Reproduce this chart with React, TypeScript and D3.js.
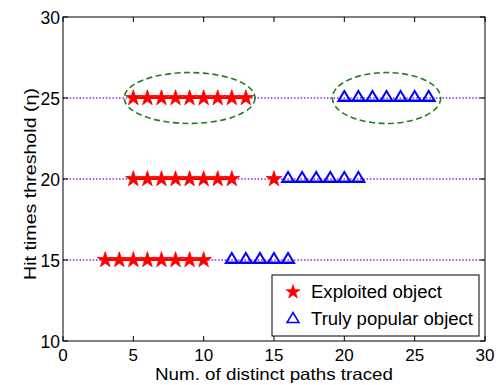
import React from "react";
import * as d3 from "d3";

const thresholds = [15, 20, 25];
const exploitedX: number[][] = [
  [3, 4, 5, 6, 7, 8, 9, 10],
  [5, 6, 7, 8, 9, 10, 11, 12, 15],
  [5, 6, 7, 8, 9, 10, 11, 12, 13],
];
const popularX: number[][] = [
  [12, 13, 14, 15, 16],
  [16, 17, 18, 19, 20, 21],
  [20, 21, 22, 23, 24, 25, 26],
];
// ellipses in data units
const ellipseCx = [9, 23];
const ellipseCy = [25, 25];
const ellipseRx = [4.65, 3.85];
const ellipseRy = [1.57, 1.57];
const xTicks = [0, 5, 10, 15, 20, 25, 30];
const yTicks = [10, 15, 20, 25, 30];
const legendLabels = ["Exploited object", "Truly popular object"];

const W = 504, H = 385;
const M = { left: 63, right: 19, top: 17, bottom: 44 };
const FONT = "'Liberation Sans', Arial, sans-serif";

function segments(xs: number[]): number[][] {
  const out: number[][] = [];
  let cur: number[] = [];
  xs.forEach((v, i) => {
    if (i > 0 && v - xs[i - 1] > 1) { out.push(cur); cur = []; }
    cur.push(v);
  });
  out.push(cur);
  return out;
}

export default function App() {
  const x = d3.scaleLinear().domain([0, 30]).range([M.left, W - M.right]);
  const y = d3.scaleLinear().domain([10, 30]).range([H - M.bottom, M.top]);
  const star = d3.symbol().type(d3.symbolStar).size(76)()!;
  const starLeg = d3.symbol().type(d3.symbolStar).size(60)()!;
  const tri = "M0,-6.5L6,3.5L-6,3.5Z";
  const x0 = x.range()[0], x1 = x.range()[1];
  const y0 = y.range()[0], y1 = y.range()[1];
  const tk = 5;

  const legW = 207, legH = 61;
  const legX = x1 - 6 - legW, legY = y0 - 5 - legH;

  return (
    <svg width={W} height={H} style={{ position: "absolute", left: 0, top: 0, background: "#fff" }} fontFamily={FONT}>
      <rect x={0} y={0} width={W} height={H} fill="#fff" />
      {thresholds.map((t) => (
        <line key={"d" + t} x1={x0} x2={x1} y1={y(t)} y2={y(t)} stroke="#8a2be2" strokeWidth={1.5} strokeDasharray="1.5,1.8" />
      ))}
      {ellipseCx.map((cx, i) => (
        <ellipse key={"e" + i} cx={x(cx)} cy={y(ellipseCy[i])}
          rx={x(cx + ellipseRx[i]) - x(cx)} ry={y(0) - y(ellipseRy[i])}
          fill="none" stroke="#1f7f1f" strokeWidth={1.6} strokeDasharray="6,3.5" />
      ))}
      {thresholds.map((t, i) => (
        <g key={"s" + t}>
          {segments(exploitedX[i]).map((seg, j) => (
            <line key={j} x1={x(seg[0])} x2={x(seg[seg.length - 1])} y1={y(t)} y2={y(t)} stroke="#ff0000" strokeWidth={2} />
          ))}
          {exploitedX[i].map((v) => (
            <path key={v} d={star} transform={`translate(${x(v)},${y(t)})`} fill="#ff0000" stroke="#ff0000" strokeWidth={0.8} />
          ))}
        </g>
      ))}
      {thresholds.map((t, i) => (
        <g key={"p" + t}>
          <line x1={x(popularX[i][0]) - 6} x2={x(popularX[i][popularX[i].length - 1]) + 6} y1={y(t) + 2.5} y2={y(t) + 2.5} stroke="#0000ff" strokeWidth={2} />
          {popularX[i].map((v) => (
            <path key={v} d={tri} transform={`translate(${x(v)},${y(t) - 0.5})`} fill="none" stroke="#0000ff" strokeWidth={2} />
          ))}
        </g>
      ))}
      <rect x={x0} y={y1} width={x1 - x0} height={y0 - y1} fill="none" stroke="#000" strokeWidth={1} />
      {xTicks.map((v) => (
        <g key={"xt" + v}>
          <line x1={x(v)} x2={x(v)} y1={y0} y2={y0 - tk} stroke="#000" />
          <line x1={x(v)} x2={x(v)} y1={y1} y2={y1 + tk} stroke="#000" />
          <text x={x(v)} y={y0 + 19.5} fontSize={17} textAnchor="middle">{v}</text>
        </g>
      ))}
      {yTicks.map((v) => (
        <g key={"yt" + v}>
          <line x1={x0} x2={x0 + tk} y1={y(v)} y2={y(v)} stroke="#000" />
          <line x1={x1} x2={x1 - tk} y1={y(v)} y2={y(v)} stroke="#000" />
          <text x={x0 - 3} y={y(v) + 6.5} fontSize={17.5} textAnchor="end">{v}</text>
        </g>
      ))}
      <text x={(x0 + x1) / 2} y={y0 + 38.5} fontSize={16.5} textAnchor="middle" textLength={238} lengthAdjust="spacingAndGlyphs">Num. of distinct paths traced</text>
      <text transform={`translate(${36},${(y0 + y1) / 2 + 5}) rotate(-90)`} fontSize={17} textAnchor="middle" textLength={192} lengthAdjust="spacingAndGlyphs">Hit times threshold (η)</text>
      <rect x={legX} y={legY} width={legW} height={legH} fill="#fff" stroke="#000" strokeWidth={1} />
      <path d={starLeg} transform={`translate(${legX + 21},${legY + 17})`} fill="#ff0000" stroke="#ff0000" strokeWidth={0.8} />
      <path d={tri} transform={`translate(${legX + 21},${legY + 44})`} fill="none" stroke="#0000ff" strokeWidth={1.5} />
      <text x={legX + 39} y={legY + 23} fontSize={18} textLength={131} lengthAdjust="spacingAndGlyphs">{legendLabels[0]}</text>
      <text x={legX + 39} y={legY + 50} fontSize={18} textLength={162} lengthAdjust="spacingAndGlyphs">{legendLabels[1]}</text>
    </svg>
  );
}
